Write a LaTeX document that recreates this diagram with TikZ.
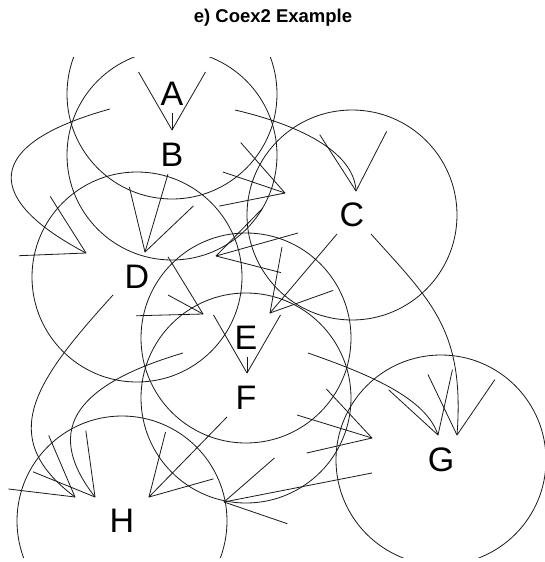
\documentclass[tikz,border=0pt]{standalone}
\usepackage{fontspec}
\setmainfont{Liberation Sans}
\usetikzlibrary{calc}
\newcommand\vhead[2]{\draw[edge] ($(#1)!67pt!30:(#2)$) -- (#1) -- ($(#1)!67pt!-30:(#2)$);}
\begin{document}
\begin{tikzpicture}[x=1pt,y=-1pt,
  edge/.style={line width=0.8pt, black!90, line join=round},
  ring/.style={line width=0.8pt, black!90},
  lbl/.style={font=\fontsize{34}{34}\selectfont, inner sep=0pt}]
\useasboundingbox (0,0) rectangle (545,562);
\node[font=\bfseries\fontsize{18.5}{18.5}\selectfont, anchor=base] (title) at (273,22.5) {e) Coex2 Example};
\begin{scope}
\clip (0,57) rectangle (545,557);
% vertices
\node[lbl] (A) at (172,94) {A};
\node[lbl] (B) at (172,155) {B};
\node[lbl] (C) at (352,215) {C};
\node[lbl] (D) at (137,277) {D};
\node[lbl] (E) at (246,338) {E};
\node[lbl] (F) at (246,398) {F};
\node[lbl] (G) at (441,460) {G};
\node[lbl] (H) at (122,521) {H};
\foreach \n in {A,B,C,D,E,F,G,H} \draw[ring] (\n.center) circle[radius=105];
% edge end points
\coordinate (ABs) at (172,113); \coordinate (ABt) at (172,130);
\coordinate (ACs) at (235,110); \coordinate (ACa) at (295,124); \coordinate (ACb) at (354,150); \coordinate (ACt) at (356,191);
\coordinate (ADs) at (110,109); \coordinate (ADa) at (-20,145); \coordinate (ADb) at (-15,200); \coordinate (ADt) at (86,253);
\coordinate (BCs) at (223,172); \coordinate (BCt) at (285,193);
\coordinate (BDs) at (168,174); \coordinate (BDt) at (145,252);
\coordinate (CDs) at (298,233); \coordinate (CDt) at (216,256);
\coordinate (CEs) at (337,234); \coordinate (CEt) at (270,313);
\coordinate (CGs) at (371,234); \coordinate (CGa) at (431,301); \coordinate (CGb) at (465,330); \coordinate (CGt) at (457,435);
\coordinate (DEs) at (168,295); \coordinate (DEt) at (203,314);
\coordinate (DHs) at (113,295); \coordinate (DHa) at (35,381); \coordinate (DHb) at (-5,437); \coordinate (DHt) at (75,497);
\coordinate (EFs) at (247,357); \coordinate (EFt) at (247,373);
\coordinate (EGs) at (308,353); \coordinate (EGa) at (365,373); \coordinate (EGb) at (426,397); \coordinate (EGt) at (438,435);
\coordinate (EHs) at (183,353); \coordinate (EHa) at (68,387); \coordinate (EHb) at (46,434); \coordinate (EHt) at (95,497);
\coordinate (FGs) at (297,415); \coordinate (FGt) at (372,438);
\coordinate (FHs) at (227,417); \coordinate (FHt) at (149,497);
\coordinate (GHs) at (372,473); \coordinate (GHt) at (224,502);
% straight edges
\foreach \e in {AB,BC,BD,CD,CE,DE,EF,FG,FH,GH} {
  \draw[edge] (\e s) -- (\e t);
  \vhead{\e t}{\e s}
}
% curved edges
\foreach \e in {AC,AD,CG,DH,EG,EH} {
  \draw[edge] (\e s) .. controls (\e a) and (\e b) .. (\e t);
  \vhead{\e t}{\e b}
}
\end{scope}
\end{tikzpicture}
\end{document}
